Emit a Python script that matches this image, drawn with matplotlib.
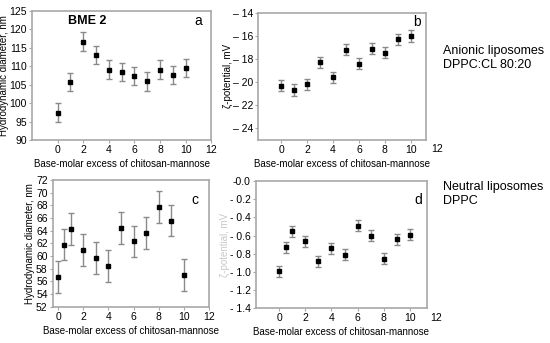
import matplotlib
matplotlib.use("Agg")
import matplotlib.pyplot as plt

plt.rcParams['font.family'] = ['Liberation Sans', 'DejaVu Sans']

# data
x_ab = [0, 1, 2, 3, 4, 5, 6, 7, 8, 9, 10]
size_a = [97.4, 105.7, 116.7, 113.0, 109.1, 108.5, 107.4, 105.9, 109.1, 107.7, 109.5]
size_a_err = [2.5] * 11
zeta_b = [-20.3, -20.7, -20.2, -18.3, -19.6, -17.2, -18.4, -17.1, -17.45, -16.3, -16.0]
zeta_b_err = [0.5] * 11

x_cd = [0, 0.5, 1, 2, 3, 4, 5, 6, 7, 8, 9, 10]
size_c = [56.7, 61.8, 64.3, 60.9, 59.7, 58.4, 64.4, 62.3, 63.6, 67.7, 65.6, 57.0]
size_c_err = [2.5] * 12
zeta_d = [-0.99, -0.73, -0.55, -0.66, -0.88, -0.74, -0.81, -0.49, -0.60, -0.855, -0.64, -0.59]
zeta_d_err = [0.06] * 12

xticks = [0, 2, 4, 6, 8, 10, 12]
b_yticks = [-24, -22, -20, -18, -16, -14]
b_ylabels = ['\u2013 24', '\u2013 22', '\u2013 20', '\u2013 18', '\u2013 16', '\u2013 14']
d_yticks = [-1.4, -1.2, -1.0, -0.8, -0.6, -0.4, -0.2, 0.0]
d_ylabels = ['- 1.4', '- 1.2', '- 1.0', '- 0.8', '- 0.6', '- 0.4', '- 0.2', '-0.0']

xlabel = 'Base-molar excess of chitosan-mannose'
size_label = 'Hydrodynamic diameter, nm'
zeta_label = '\u03b6-potential, mV'

fig = plt.figure(figsize=(5.5, 3.43), dpi=100)
ax_a = fig.add_axes([0.058, 0.592, 0.326, 0.376])
ax_b = fig.add_axes([0.469, 0.592, 0.306, 0.371])
ax_c = fig.add_axes([0.0955, 0.106, 0.2845, 0.369])
ax_d = fig.add_axes([0.465, 0.101, 0.311, 0.371])

frame = '#a8a8a8'
TICK = 7.5
LAB = 7


def style(ax):
    for s in ax.spines.values():
        s.set_color(frame)
        s.set_linewidth(1.2)
    ax.tick_params(labelsize=TICK, length=2, color=frame, pad=1.5)
    ax.set_xlabel(xlabel, fontsize=LAB, labelpad=3)


def points(ax, x, y, e):
    ax.errorbar(x, y, yerr=e, fmt='s', ms=3, color='black', ecolor='#8a8a8a',
                elinewidth=1, capsize=2, capthick=1)


# a
points(ax_a, x_ab, size_a, size_a_err)
ax_a.set_xlim(-2, 12)
ax_a.set_ylim(90, 125)
ax_a.set_xticks(xticks)
ax_a.set_yticks(range(90, 126, 5))
style(ax_a)
ax_a.set_ylabel(size_label, fontsize=LAB, labelpad=0.5)
ax_a.text(0.2, 0.92, 'BME 2', transform=ax_a.transAxes, fontsize=9,
          fontweight='bold', va='center')
ax_a.text(0.95, 0.92, 'a', transform=ax_a.transAxes, fontsize=10,
          ha='right', va='center')

# b
points(ax_b, x_ab, zeta_b, zeta_b_err)
ax_b.set_xlim(-1.8, 11.2)
ax_b.set_ylim(-25, -14)
ax_b.set_xticks(xticks[:-1])
ax_b.set_yticks(b_yticks)
ax_b.set_yticklabels(b_ylabels)
style(ax_b)
ax_b.text(12, -0.035, '12', transform=ax_b.get_xaxis_transform(), fontsize=TICK,
          ha='center', va='top')
ax_b.set_ylabel(zeta_label, fontsize=LAB, labelpad=0)
ax_b.text(0.97, 0.93, 'b', transform=ax_b.transAxes, fontsize=10,
          ha='right', va='center')

# c
points(ax_c, x_cd, size_c, size_c_err)
ax_c.set_xlim(-0.45, 12)
ax_c.set_ylim(52, 72)
ax_c.set_xticks(xticks)
ax_c.set_yticks(range(52, 73, 2))
style(ax_c)
ax_c.set_ylabel(size_label, fontsize=LAB, labelpad=1)
ax_c.text(0.93, 0.84, 'c', transform=ax_c.transAxes, fontsize=10,
          ha='right', va='center')

# d
points(ax_d, x_cd, zeta_d, zeta_d_err)
ax_d.set_xlim(-1.8, 11.3)
ax_d.set_ylim(-1.4, 0.0)
ax_d.set_xticks(xticks[:-1])
ax_d.set_yticks(d_yticks)
ax_d.set_yticklabels(d_ylabels)
style(ax_d)
ax_d.text(12, -0.035, '12', transform=ax_d.get_xaxis_transform(), fontsize=TICK,
          ha='center', va='top')
ax_d.set_ylabel(zeta_label, fontsize=LAB, labelpad=0, color='#c8c8c8')
ax_d.text(0.97, 0.85, 'd', transform=ax_d.transAxes, fontsize=10,
          ha='right', va='center')

fig.text(0.806, 0.83, 'Anionic liposomes\nDPPC:CL 80:20', fontsize=9,
         va='center', linespacing=1.2)
fig.text(0.806, 0.435, 'Neutral liposomes\nDPPC', fontsize=9,
         va='center', linespacing=1.2)

fig.savefig('out.png', dpi=100)
